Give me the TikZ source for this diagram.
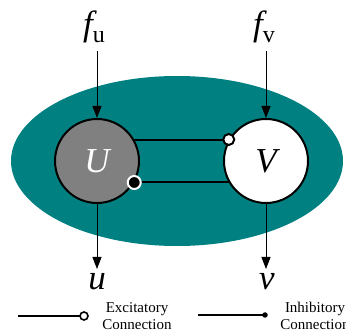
\documentclass[tikz,border=0pt]{standalone}
\usepackage{fontspec}
\setmainfont{Liberation Serif}
\usetikzlibrary{arrows.meta}
\tikzset{
  unit/.style={circle, draw=black, line width=2pt, minimum size=84pt, inner sep=0pt,
    font=\fontsize{35}{40}\selectfont\itshape},
  arr/.style={line width=1pt, -{Triangle[length=12pt,width=9pt]}},
  link/.style={line width=2pt},
  biglabel/.style={anchor=base, inner sep=0pt, font=\fontsize{35}{40}\selectfont\itshape},
  legendtext/.style={align=center, inner sep=0pt, font=\fontsize{15}{17}\selectfont},
  opendot/.style={circle, draw=black, fill=white, line width=2pt, minimum size=11pt, inner sep=0pt},
  fulldot/.style={circle, draw=white, fill=black, line width=2pt, minimum size=13pt, inner sep=0pt},
}
\begin{document}
\begin{tikzpicture}[x=1pt,y=-1pt]
\useasboundingbox (0,0) rectangle (346,334);
\fill[teal] (177,161) ellipse [x radius=166, y radius=85];
\node[unit, fill=gray, text=white] (U) at (97,161) {U};
\node[unit, fill=white] (V) at (266,161) {V};
\draw[link] (U.30) -- (V.150);
\draw[link] (U.-30) -- (V.-150);
\node[opendot] (exc) at (V.150) {};
\node[fulldot] (inh) at (U.-30) {};
% inputs
\node[biglabel] (fu) at (94,36) {f\raisebox{-7pt}{\fontsize{24}{24}\selectfont\upshape u}};
\node[biglabel] (fv) at (264,36) {f\raisebox{-7pt}{\fontsize{24}{24}\selectfont\upshape v}};
\coordinate (fuend) at (97,51);
\coordinate (fvend) at (266,51);
\draw[arr] (fuend) -- (U.north);
\draw[arr] (fvend) -- (V.north);
% outputs
\coordinate (uend) at (97,269);
\coordinate (vend) at (266,269);
\draw[arr] (U.south) -- (uend);
\draw[arr] (V.south) -- (vend);
\node[biglabel] (ul) at (97,290) {u};
\node[biglabel] (vl) at (267,290) {v};
% legend
\coordinate (e0) at (18,316);
\coordinate (e1) at (84,316);
\draw[link] (e0) -- (e1);
\node[circle, draw=black, fill=white, line width=1.6pt, minimum size=8pt, inner sep=0pt] (ed) at (e1) {};
\node[legendtext] (et) at (137,316) {Excitatory\\Connection};
\coordinate (i0) at (198,315);
\coordinate (i1) at (265,315);
\draw[link] (i0) -- (i1);
\node[circle, fill=black, minimum size=5.5pt, inner sep=0pt] (id) at (i1) {};
\node[legendtext] (it) at (315,316) {Inhibitory\\Connection};
\end{tikzpicture}
\end{document}
